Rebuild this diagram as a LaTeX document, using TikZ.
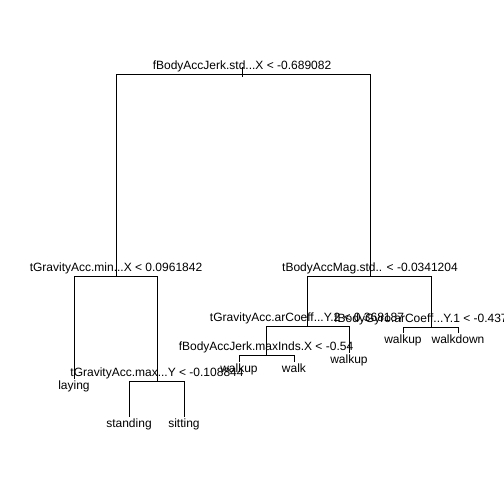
\documentclass[tikz,border=0pt]{standalone}
\usepackage{fontspec}
\setmainfont{Liberation Sans}
\begin{document}
\begin{tikzpicture}[x=1pt,y=-1pt,
  edge/.style={draw=black,line width=0.8pt},
  splitlab/.style={inner sep=0pt,anchor=base,font=\fontsize{12}{14}\selectfont},
  leaflab/.style={inner sep=0pt,anchor=north,font=\fontsize{12}{14}\selectfont}]
\useasboundingbox (0,0) rectangle (504,504);
\fill[white] (0,0) rectangle (504,504);
\clip (0,0) rectangle (504,504);
% split points
\coordinate (root) at (242,74);
\coordinate (roottop) at (242,67);
\coordinate (rootbot) at (242,77);
\coordinate (n2) at (116,276);
\coordinate (n3) at (370,276);
\coordinate (n4) at (74,379);
\coordinate (n5) at (157,381);
\coordinate (n6) at (129,417);
\coordinate (n7) at (184,417);
\coordinate (n8) at (307,326);
\coordinate (n9) at (431,327);
\coordinate (n10) at (266,355);
\coordinate (n11) at (349,353);
\coordinate (n12) at (239,362);
\coordinate (n13) at (294,362);
\coordinate (n14) at (403,333);
\coordinate (n15) at (458,333);
% edges
\draw[edge] (roottop) -- (rootbot);
\draw[edge] (root) -| (n2);
\draw[edge] (root) -| (n3);
\draw[edge] (n2) -| (n4);
\draw[edge] (n2) -| (n5);
\draw[edge] (n5) -| (n6);
\draw[edge] (n5) -| (n7);
\draw[edge] (n3) -| (n8);
\draw[edge] (n3) -| (n9);
\draw[edge] (n8) -| (n10);
\draw[edge] (n8) -| (n11);
\draw[edge] (n10) -| (n12);
\draw[edge] (n10) -| (n13);
\draw[edge] (n9) -| (n14);
\draw[edge] (n9) -| (n15);
% split labels
\node[splitlab] (l1) at ([yshift=5pt]root) {fBodyAccJerk.std...X < -0.689082};
\node[splitlab] (l2) at ([yshift=5pt]n2) {tGravityAcc.min...X < 0.0961842};
\node[splitlab] (l3) at ([yshift=5pt]n3) {tBodyAccMag.std.. < -0.0341204};
\node[splitlab] (l5) at ([yshift=5pt]n5) {tGravityAcc.max...Y < -0.108844};
\node[splitlab] (l8) at ([yshift=5pt]n8) {tGravityAcc.arCoeff...Y.2 < 0.368187};
\node[splitlab] (l9) at ([yshift=5pt]n9) {fBodyGyro.arCoeff...Y.1 < -0.437353};
\node[splitlab] (l10) at ([yshift=5pt]n10) {fBodyAccJerk.maxInds.X < -0.54};
% leaf labels
\node[leaflab] (t4) at ([yshift=-2pt]n4) {laying};
\node[leaflab] (t6) at ([yshift=-2pt]n6) {standing};
\node[leaflab] (t7) at ([yshift=-2pt]n7) {sitting};
\node[leaflab] (t11) at ([yshift=-2pt]n11) {walkup};
\node[leaflab] (t12) at ([yshift=-2pt]n12) {walkup};
\node[leaflab] (t13) at ([yshift=-2pt]n13) {walk};
\node[leaflab] (t14) at ([yshift=-2pt]n14) {walkup};
\node[leaflab] (t15) at ([yshift=-2pt]n15) {walkdown};
\end{tikzpicture}
\end{document}
